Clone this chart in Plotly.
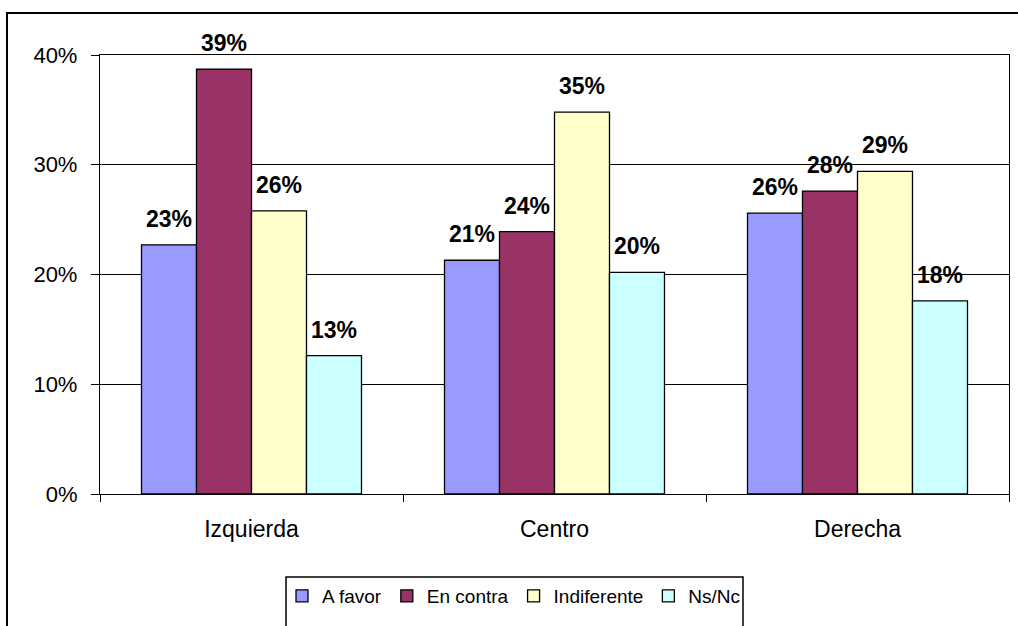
import plotly.graph_objects as go

categories = ["Izquierda", "Centro", "Derecha"]
series_names = ["A favor", "En contra", "Indiferente", "Ns/Nc"]
a_favor = [0.227, 0.213, 0.256]
en_contra = [0.387, 0.239, 0.276]
indiferente = [0.258, 0.348, 0.294]
ns_nc = [0.126, 0.202, 0.176]
colors = ["#9999FF", "#993366", "#FFFFCC", "#CCFFFF"]
y_ticks = [0, 0.1, 0.2, 0.3, 0.4]
y_tick_labels = ["0%", "10%", "20%", "30%", "40%"]

FONT = "Arial, 'Liberation Sans', sans-serif"

fig = go.Figure()
for name, vals, col in zip(series_names, [a_favor, en_contra, indiferente, ns_nc], colors):
    fig.add_trace(go.Bar(
        name=name, x=categories, y=vals,
        marker=dict(color=col, line=dict(color="black", width=1.3)),
        text=[f"<span style='font-size:23px'><b>{round(v*100):d}%</b></span><br>\u00a0" for v in vals],
        textposition="outside",
        textfont=dict(family=FONT, size=10, color="black"),
        cliponaxis=False,
    ))

L, R, T, B = 100, 9, 55, 132
W, H = 1018, 626
pw, ph = W - L - R, H - T - B

def px_x(x):
    return (x - L) / pw

def px_y(y):
    return (H - B - y) / ph

fig.update_layout(
    width=W, height=H,
    margin=dict(l=L, r=R, t=T, b=B, pad=0),
    paper_bgcolor="white", plot_bgcolor="white",
    barmode="group", bargap=0.274, bargroupgap=0,
    font=dict(family=FONT, color="black"),
    showlegend=True,
    legend=dict(
        orientation="h", x=px_x(514), xanchor="center",
        y=px_y(577), yanchor="top",
        font=dict(family=FONT, size=19, color="black"),
        bgcolor="rgba(0,0,0,0)", borderwidth=0,
        itemwidth=30, traceorder="normal",
    ),
    xaxis=dict(
        showline=True, linecolor="black", linewidth=1.3, mirror=True,
        ticks="outside", ticklen=7, tickcolor="black", tickwidth=1.3,
        tickson="boundaries", showgrid=False, ticklabelstandoff=14,
        tickfont=dict(family=FONT, size=23, color="black"),
    ),
    yaxis=dict(
        range=[0, 0.4], tickvals=y_ticks, ticktext=y_tick_labels,
        showline=True, linecolor="black", linewidth=1.3, mirror=True,
        ticks="outside", ticklen=8, tickcolor="black", tickwidth=1.3,
        showgrid=True, gridcolor="black", gridwidth=1.3,
        zeroline=False, ticklabelstandoff=9,
        tickfont=dict(family=FONT, size=22, color="black"),
    ),
    shapes=[
        dict(type="rect", xref="paper", yref="paper",
             x0=px_x(7), x1=px_x(1030), y0=px_y(640), y1=px_y(13),
             line=dict(color="black", width=2), fillcolor="rgba(0,0,0,0)", layer="below"),
        dict(type="rect", xref="paper", yref="paper",
             x0=px_x(286), x1=px_x(743), y0=px_y(640), y1=px_y(577),
             line=dict(color="black", width=1.5), fillcolor="rgba(0,0,0,0)", layer="below"),
    ],
)

fig.write_html(
    "out.html",
    config={"displayModeBar": False},
    post_script="document.body.style.margin='0';document.body.style.overflow='hidden';",
)
